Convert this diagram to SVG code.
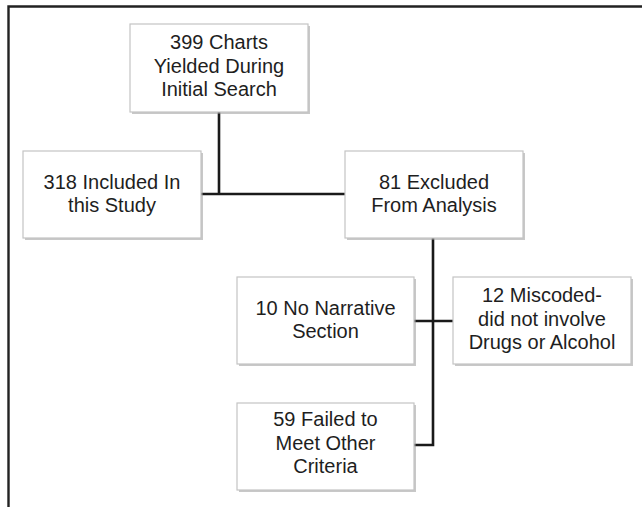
<svg xmlns="http://www.w3.org/2000/svg" width="642" height="507" viewBox="0 0 642 507">
<defs>
<style>
.box{fill:#fff;stroke:#c4c4c4;stroke-width:1.2}
.sh{fill:#9a9a9a;opacity:0.55}
.t{font-family:"Liberation Sans",Arial,sans-serif;font-size:20px;fill:#1e1e1e;text-anchor:middle}
.c{stroke:#1a1a1a;stroke-width:2.6;fill:none}
.frame{stroke:#222;stroke-width:2.4;fill:none}
</style>
</defs>
<rect width="642" height="507" fill="#fff"/>
<path class="frame" d="M8.5 507 V6.5 H642"/>
<g id="connectors">
<path class="c" d="M219 112 V194 M201 194 H345"/>
<path class="c" d="M433 238 V445 H414 M414 321 H453"/>
</g>
<g id="n399">
<rect class="sh" x="132" y="26" width="178" height="88"/>
<rect class="box" x="130" y="24" width="178" height="88"/>
<text class="t" x="219" y="49">399 Charts</text>
<text class="t" x="219" y="73">Yielded During</text>
<text class="t" x="219" y="96">Initial Search</text>
</g>
<g id="n318">
<rect class="sh" x="25" y="153" width="178" height="87"/>
<rect class="box" x="23" y="151" width="178" height="87"/>
<text class="t" x="112" y="189">318 Included In</text>
<text class="t" x="112" y="212">this Study</text>
</g>
<g id="n81">
<rect class="sh" x="347" y="153" width="178" height="87"/>
<rect class="box" x="345" y="151" width="178" height="87"/>
<text class="t" x="434" y="189">81 Excluded</text>
<text class="t" x="434" y="212">From Analysis</text>
</g>
<g id="n10">
<rect class="sh" x="239" y="279" width="177" height="87"/>
<rect class="box" x="237" y="277" width="177" height="87"/>
<text class="t" x="325.5" y="315">10 No Narrative</text>
<text class="t" x="325.5" y="338">Section</text>
</g>
<g id="n12">
<rect class="sh" x="455" y="279" width="178" height="87"/>
<rect class="box" x="453" y="277" width="178" height="87"/>
<text class="t" x="542" y="302">12 Miscoded-</text>
<text class="t" x="542" y="326">did not involve</text>
<text class="t" x="542" y="349">Drugs or Alcohol</text>
</g>
<g id="n59">
<rect class="sh" x="239" y="405" width="177" height="87"/>
<rect class="box" x="237" y="403" width="177" height="87"/>
<text class="t" x="325.5" y="426">59 Failed to</text>
<text class="t" x="325.5" y="450">Meet Other</text>
<text class="t" x="325.5" y="473">Criteria</text>
</g>
</svg>
